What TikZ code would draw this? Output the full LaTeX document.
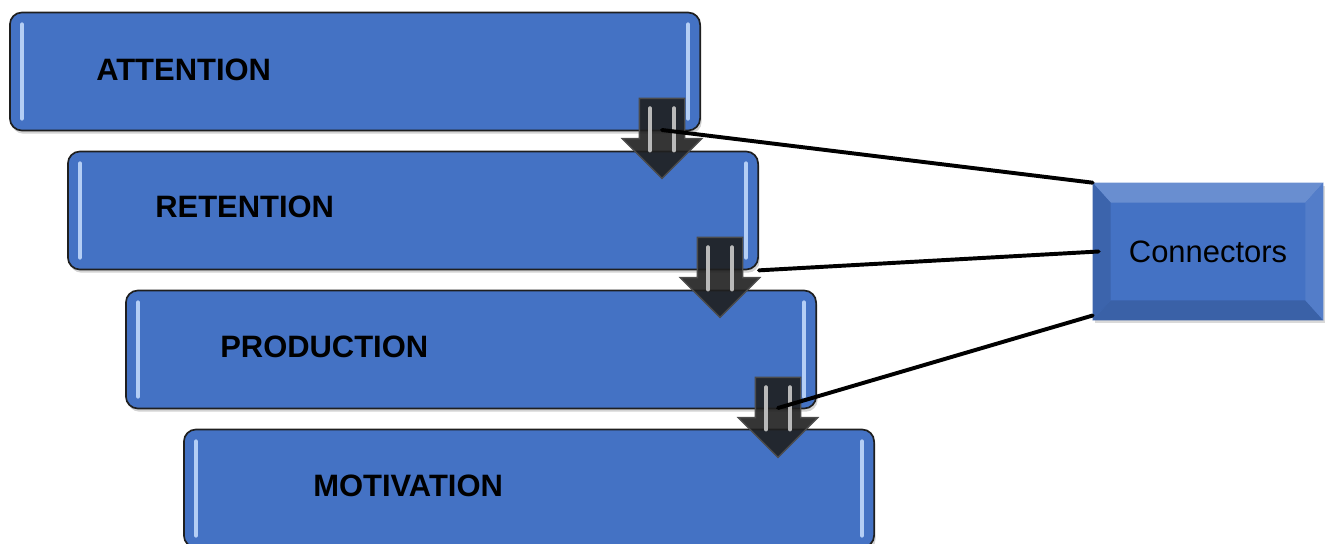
\documentclass[tikz,border=0pt]{standalone}
\usepackage{fontspec}
\setmainfont{Liberation Sans}
\usepackage{tikz}
\usetikzlibrary{positioning,shapes.arrows,shadows}

\definecolor{stageblue}{HTML}{4472C4}
\definecolor{stageedge}{HTML}{1F1F1F}
\definecolor{glint}{HTML}{B4CEF5}

\begin{document}
\begin{tikzpicture}[
    x=0.025cm, y=-0.025cm,
    stage/.style = {
        rectangle,
        draw=stageedge,
        line width=1.2pt,
        rounded corners=0.3cm,
        fill=stageblue,
        minimum width=17.25cm,
        minimum height=2.95cm,
        inner sep=0pt,
        drop shadow={shadow xshift=0.4mm, shadow yshift=-0.8mm, opacity=0.35},
        path picture={
            \draw[glint, line width=3pt, line cap=round]
                ([xshift=0.3cm, yshift=-0.3cm]path picture bounding box.north west)
                -- ([xshift=0.3cm, yshift=0.3cm]path picture bounding box.south west);
            \draw[glint, line width=3pt, line cap=round]
                ([xshift=-0.3cm, yshift=-0.3cm]path picture bounding box.north east)
                -- ([xshift=-0.3cm, yshift=0.3cm]path picture bounding box.south east);
        }
    },
    stagetext/.style = {
        anchor=west,
        inner sep=0pt,
        font=\fontsize{22}{26}\selectfont\bfseries
    },
    downarrow/.style = {
        single arrow,
        shape border rotate=270,
        draw=black!70,
        line width=1pt,
        inner sep=0.55cm,
        minimum height=2cm,
        minimum width=1.95cm,
        single arrow head extend=0.425cm,
        single arrow tip angle=90,
        fill=black!88,
        fill opacity=0.9,
        path picture={
            \draw[gray!55, line width=3pt, line cap=round]
                ([xshift=-0.3cm, yshift=-0.25cm]path picture bounding box.north)
                -- ++(0,-1.05cm);
            \draw[gray!55, line width=3pt, line cap=round]
                ([xshift=0.3cm, yshift=-0.25cm]path picture bounding box.north)
                -- ++(0,-1.05cm);
        }
    },
    bevelbox/.style = {
        rectangle,
        fill=stageblue,
        minimum width=5.75cm,
        minimum height=3.425cm,
        inner sep=0pt,
        font=\fontsize{22}{26}\selectfont,
        drop shadow={shadow xshift=0.4mm, shadow yshift=-0.8mm, opacity=0.3}
    },
    link/.style = {line width=2.8pt, draw=black, line cap=round}
]

\useasboundingbox (0,0) rectangle (1328,544);

\def\hstep{58}
\def\vstep{139}

% the four stages, stepping down and to the right
\node[stage] (att) at (355,71.5) {};
\node[stage] (ret) at (355+\hstep,71.5+\vstep) {};
\node[stage] (pro) at (355+2*\hstep,71.5+2*\vstep) {};
\node[stage] (mot) at (355+3*\hstep,71.5+3*\vstep) {};

\node[stagetext] (attl) at (96,70)  {ATTENTION};
\node[stagetext] (retl) at (155,207) {RETENTION};
\node[stagetext] (prol) at (220,347) {PRODUCTION};
\node[stagetext] (motl) at (313,486) {MOTIVATION};

% arrows between the stages
\node[downarrow] (arr1) at (662,127) {};
\node[downarrow] (arr2) at (720,266) {};
\node[downarrow] (arr3) at (778,406) {};

% bevelled side box
\node[bevelbox] (conn) at (1208,251.5) {};
\fill[stageblue!80!white]
    (conn.north west) -- (conn.north east) -- ([xshift=-0.45cm,yshift=-0.5cm]conn.north east) -- ([xshift=0.45cm,yshift=-0.5cm]conn.north west) -- cycle;
\fill[stageblue!88!black]
    (conn.north west) -- ([xshift=0.45cm,yshift=-0.5cm]conn.north west) -- ([xshift=0.45cm,yshift=0.5cm]conn.south west) -- (conn.south west) -- cycle;
\fill[stageblue!85!black]
    (conn.south west) -- ([xshift=0.45cm,yshift=0.5cm]conn.south west) -- ([xshift=-0.45cm,yshift=0.5cm]conn.south east) -- (conn.south east) -- cycle;
\fill[stageblue!92!white]
    (conn.north east) -- ([xshift=-0.45cm,yshift=-0.5cm]conn.north east) -- ([xshift=-0.45cm,yshift=0.5cm]conn.south east) -- (conn.south east) -- cycle;
\node[inner sep=0pt, font=\fontsize{22}{26}\selectfont] (connl) at (conn.center) {Connectors};

% lines joining the arrows to the side box
\draw[link] ([yshift=-0.075cm]arr1.center) -- (conn.north west);
\draw[link] (ret.south east) -- ([xshift=0.15cm]conn.west);
\draw[link] ([yshift=-0.05cm]arr3.center) -- ([yshift=0.12cm]conn.south west);

\end{tikzpicture}
\end{document}
